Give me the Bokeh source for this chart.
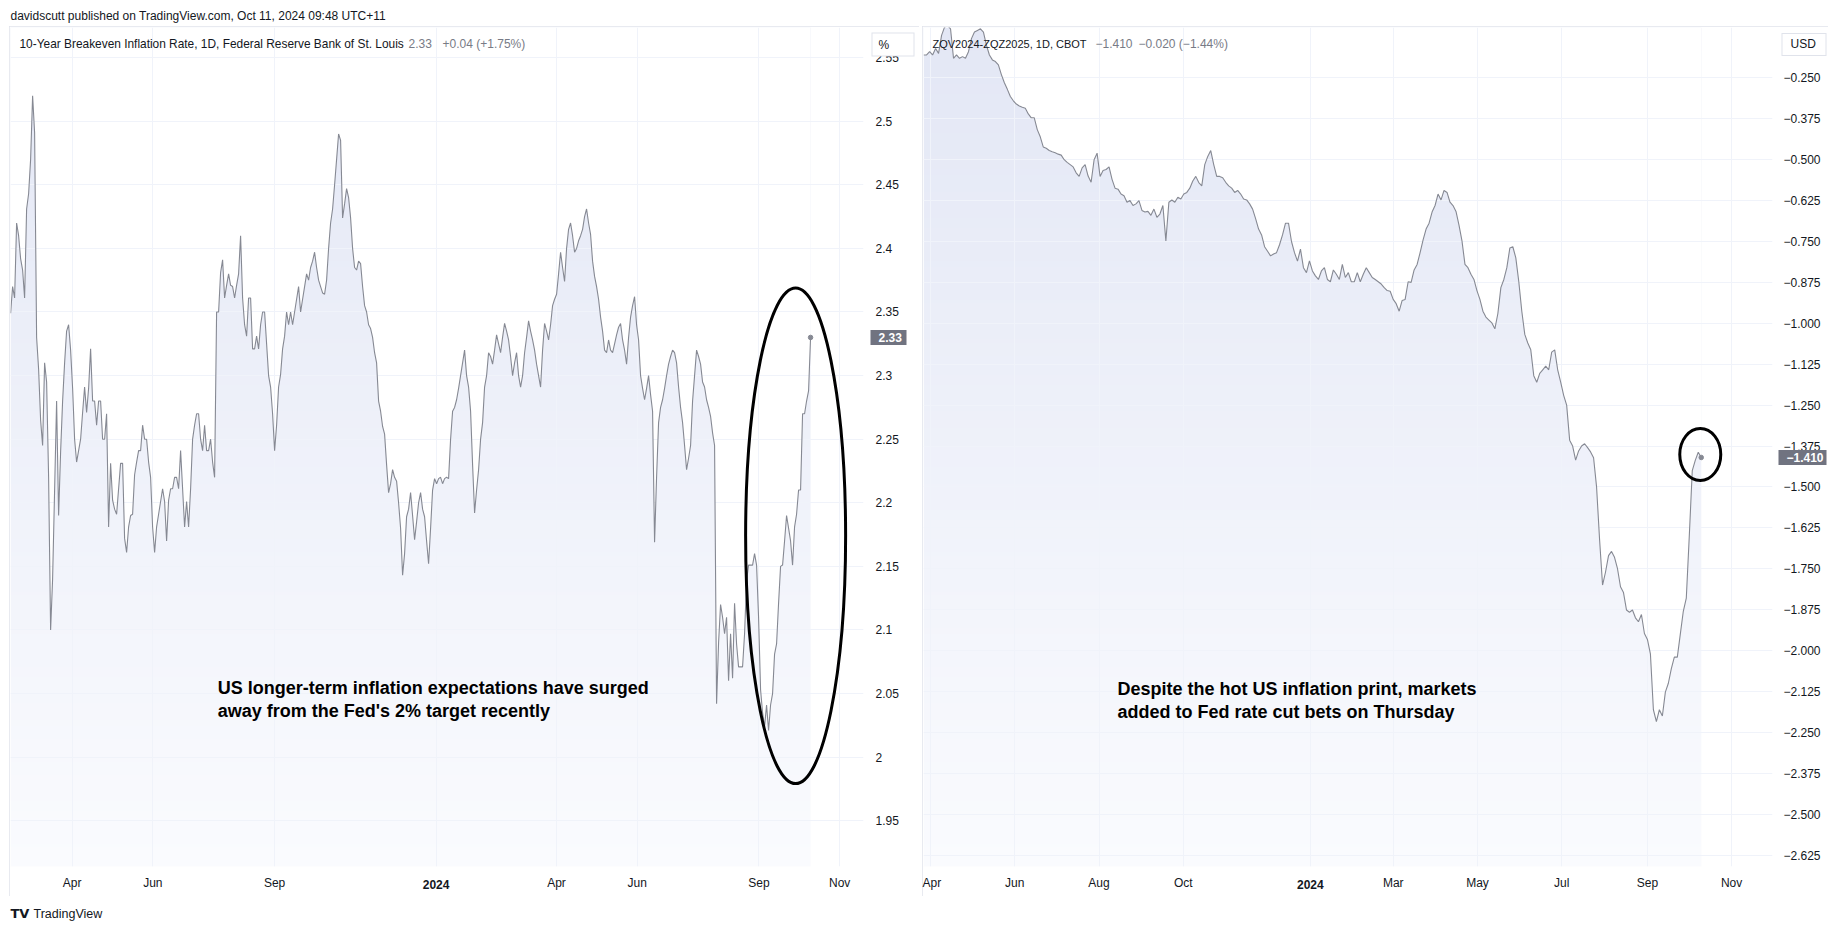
import numpy as np
import pandas as pd
from bokeh.plotting import figure
from bokeh.layouts import column, row
from bokeh.models import (Range1d, FixedTicker, Label, Spacer, ColumnDataSource,
                          LinearAxis, DatetimeAxis)
from bokeh.core.properties import value
from bokeh.embed import file_html
from bokeh.resources import INLINE

# ------------------------------------------------------------------ data
HEADER = "davidscutt published on TradingView.com, Oct 11, 2024 09:48 UTC+11"

be_title = "10-Year Breakeven Inflation Rate, 1D, Federal Reserve Bank of St. Louis"
be_last = "2.33"
be_change = "+0.04 (+1.75%)"
be_unit = "%"
be_start = "2023-02-13 12:00"
be_end = "2024-10-10"
be_values = [
    2.349, 2.370, 2.361, 2.420, 2.410, 2.392, 2.383, 2.361, 2.431, 2.443,
    2.470, 2.520, 2.491, 2.330, 2.305, 2.265, 2.245, 2.310, 2.295, 2.220,
    2.100, 2.140, 2.210, 2.280, 2.190, 2.240, 2.280, 2.310, 2.335, 2.340,
    2.320, 2.290, 2.250, 2.232, 2.241, 2.250, 2.271, 2.291, 2.271, 2.290,
    2.321, 2.280, 2.280, 2.261, 2.280, 2.280, 2.250, 2.250, 2.270, 2.181,
    2.231, 2.202, 2.195, 2.191, 2.211, 2.231, 2.231, 2.172, 2.161, 2.181,
    2.190, 2.191, 2.222, 2.232, 2.241, 2.241, 2.261, 2.250, 2.250, 2.232,
    2.220, 2.181, 2.161, 2.181, 2.191, 2.201, 2.211, 2.201, 2.170, 2.202,
    2.211, 2.211, 2.220, 2.220, 2.211, 2.241, 2.211, 2.181, 2.201, 2.181,
    2.211, 2.250, 2.261, 2.270, 2.270, 2.250, 2.241, 2.261, 2.241, 2.241,
    2.250, 2.232, 2.220, 2.350, 2.350, 2.381, 2.391, 2.361, 2.371, 2.380,
    2.371, 2.370, 2.361, 2.371, 2.380, 2.410, 2.361, 2.340, 2.331, 2.361,
    2.361, 2.321, 2.321, 2.331, 2.321, 2.340, 2.350, 2.350, 2.325, 2.300,
    2.291, 2.270, 2.241, 2.261, 2.291, 2.301, 2.321, 2.331, 2.350, 2.340,
    2.350, 2.340, 2.350, 2.360, 2.370, 2.350,
    2.360, 2.370, 2.380, 2.375, 2.385, 2.390, 2.397, 2.385, 2.375, 2.370,
    2.365, 2.364, 2.375, 2.400, 2.420, 2.431, 2.450, 2.470, 2.490, 2.485,
    2.424, 2.435, 2.447, 2.440, 2.424, 2.400, 2.385, 2.383, 2.390, 2.388,
    2.370, 2.355, 2.350, 2.340, 2.337, 2.330, 2.318, 2.310, 2.280, 2.272,
    2.260, 2.254, 2.230, 2.208, 2.215, 2.226, 2.220, 2.217, 2.200, 2.180,
    2.143, 2.160, 2.189, 2.195, 2.208, 2.190, 2.171, 2.185, 2.200, 2.208,
    2.195, 2.189, 2.170, 2.152, 2.180, 2.210, 2.219, 2.215, 2.219, 2.220,
    2.215, 2.219, 2.220, 2.219, 2.250, 2.272, 2.275, 2.281, 2.290, 2.300,
    2.310, 2.320, 2.300, 2.291, 2.272, 2.230, 2.192, 2.210, 2.226, 2.250,
    2.263, 2.291, 2.300, 2.318, 2.315, 2.309, 2.320, 2.332, 2.325, 2.318,
    2.330, 2.341, 2.335, 2.328, 2.315, 2.300, 2.310, 2.318, 2.300, 2.291,
    2.300, 2.318, 2.330, 2.343, 2.335, 2.328, 2.320, 2.309, 2.300, 2.291,
    2.320, 2.341, 2.335, 2.328, 2.340, 2.355, 2.360, 2.364, 2.380, 2.397,
    2.385, 2.374, 2.400, 2.415, 2.420, 2.410, 2.397, 2.400, 2.406, 2.410,
    2.415, 2.425, 2.431, 2.420, 2.411, 2.390, 2.378, 2.370, 2.360, 2.346,
    2.335, 2.320, 2.318, 2.328, 2.320, 2.318, 2.325, 2.332, 2.338, 2.341,
    2.328, 2.320, 2.309, 2.330, 2.346, 2.355, 2.362, 2.340, 2.328, 2.300,
    2.290, 2.281, 2.290, 2.300, 2.285, 2.272, 2.169, 2.220, 2.263, 2.275,
    2.281, 2.290, 2.300, 2.309, 2.315, 2.320, 2.318, 2.310, 2.291, 2.275,
    2.263, 2.245, 2.226, 2.235, 2.245, 2.280, 2.300, 2.320, 2.315, 2.309,
    2.295, 2.291, 2.281, 2.275, 2.268, 2.255, 2.245, 2.042, 2.090, 2.120,
    2.110, 2.097, 2.110, 2.060, 2.097, 2.062, 2.121, 2.089, 2.071, 2.071,
    2.071, 2.097, 2.139, 2.151, 2.151, 2.151, 2.160, 2.151, 2.110, 2.053,
    2.035, 2.024, 2.041, 2.021, 2.041, 2.050, 2.081, 2.089, 2.121, 2.150,
    2.151, 2.170, 2.190, 2.180, 2.170, 2.151, 2.181, 2.191, 2.210, 2.210,
    2.270, 2.270, 2.280, 2.288, 2.330,
]

zq_title = "ZQV2024-ZQZ2025, 1D, CBOT"
zq_last = "\u22121.410"
zq_change = "\u22120.020 (\u22121.44%)"
zq_unit = "USD"
zq_start = "2023-03-27"
zq_end = "2024-10-10"
zq_values = [
    -0.180, -0.180, -0.170, -0.180, -0.160, -0.175, -0.120, -0.095, -0.090, -0.100,
    -0.190, -0.180, -0.190, -0.185, -0.190, -0.170, -0.130, -0.110, -0.105, -0.100,
    -0.110, -0.150, -0.180, -0.195, -0.200, -0.210, -0.240, -0.265, -0.285, -0.307,
    -0.320, -0.330, -0.336, -0.340, -0.343, -0.360, -0.372, -0.372, -0.408, -0.430,
    -0.461, -0.465, -0.472, -0.476, -0.479, -0.483, -0.486, -0.500, -0.508, -0.515,
    -0.522, -0.540, -0.551, -0.525, -0.515, -0.550, -0.569, -0.500, -0.480, -0.551,
    -0.533, -0.530, -0.522, -0.560, -0.587, -0.590, -0.605, -0.610, -0.630, -0.625,
    -0.640, -0.635, -0.625, -0.655, -0.660, -0.658, -0.670, -0.651, -0.676, -0.666,
    -0.640, -0.748, -0.630, -0.623, -0.630, -0.615, -0.620, -0.605, -0.600, -0.587,
    -0.565, -0.551, -0.570, -0.580, -0.515, -0.490, -0.472, -0.515, -0.551, -0.551,
    -0.555, -0.569, -0.580, -0.587, -0.600, -0.594, -0.605, -0.620, -0.623, -0.635,
    -0.651, -0.680, -0.712, -0.730, -0.766, -0.780, -0.794, -0.788, -0.784, -0.760,
    -0.730, -0.694, -0.694, -0.750, -0.784, -0.810, -0.773, -0.830, -0.845, -0.809,
    -0.840, -0.855, -0.866, -0.840, -0.830, -0.866, -0.873, -0.837, -0.850, -0.866,
    -0.820, -0.860, -0.845, -0.873, -0.873, -0.845, -0.873, -0.850, -0.830, -0.845,
    -0.860, -0.866, -0.873, -0.880, -0.891, -0.900, -0.902, -0.927, -0.940, -0.963,
    -0.930, -0.927, -0.873, -0.875, -0.837, -0.820, -0.784, -0.745, -0.712, -0.694,
    -0.660, -0.640, -0.605, -0.623, -0.594, -0.600, -0.630, -0.640, -0.658, -0.700,
    -0.748, -0.820, -0.830, -0.850, -0.866, -0.900, -0.927, -0.963, -0.981, -0.990,
    -0.999, -1.017, -0.970, -0.891, -0.866, -0.830, -0.770, -0.766, -0.800, -0.873,
    -0.963, -1.034, -1.060, -1.081, -1.160, -1.180, -1.153, -1.142, -1.131, -1.142,
    -1.088, -1.081, -1.142, -1.180, -1.220, -1.250, -1.357, -1.375, -1.418, -1.390,
    -1.375, -1.368, -1.380, -1.393, -1.411, -1.500, -1.660, -1.800, -1.760, -1.710,
    -1.697, -1.715, -1.750, -1.805, -1.823, -1.876, -1.883, -1.876, -1.900, -1.912,
    -1.890, -1.948, -1.966, -2.010, -2.181, -2.217, -2.181, -2.200, -2.127, -2.100,
    -2.055, -2.020, -2.020, -1.950, -1.880, -1.840, -1.650, -1.450, -1.419, -1.394,
    -1.410,
]

be_xticks = ["2023-04-01", "2023-06-01", "2023-09-01", "2024-01-01",
             "2024-04-01", "2024-06-01", "2024-09-01", "2024-11-01"]
be_xlabels = ["Apr", "Jun", "Sep", "2024", "Apr", "Jun", "Sep", "Nov"]
zq_xticks = ["2023-04-01", "2023-06-01", "2023-08-01", "2023-10-01", "2024-01-01",
             "2024-03-01", "2024-05-01", "2024-07-01", "2024-09-01", "2024-11-01"]
zq_xlabels = ["Apr", "Jun", "Aug", "Oct", "2024", "Mar", "May", "Jul", "Sep", "Nov"]
be_yticks = [1.95, 2.0, 2.05, 2.1, 2.15, 2.2, 2.25, 2.3, 2.35, 2.4, 2.45, 2.5, 2.55]
zq_yticks = [-2.625, -2.5, -2.375, -2.25, -2.125, -2.0, -1.875, -1.75, -1.625, -1.5,
             -1.375, -1.25, -1.125, -1.0, -0.875, -0.75, -0.625, -0.5, -0.375, -0.25]

be_note = "US longer-term inflation expectations have surged\naway from the Fed's 2% target recently"
be_note_at = ("2023-07-20", 2.045)
zq_note = "Despite the hot US inflation print, markets\nadded to Fed rate cut bets on Thursday"
zq_note_at = ("2023-08-14 10:00", -2.152)
be_circle_at = ("2024-09-28 17:00", 2.174)
zq_circle_at = ("2024-10-09 07:00", -1.401)

# visible windows of the two panes
be_xview = ("2023-02-13 10:00", "2024-11-19 00:00")
be_yview = (1.914, 2.5737)
zq_xview = ("2023-03-26 22:00", "2024-11-30 14:00")
zq_yview = (-2.660, -0.096)

# ------------------------------------------------------------------ style
FONT = "Liberation Sans"
LINE = "#868993"
GRID = "#f0f3fa"
TXT = "#131722"
MUTED = "#787b86"
BORDER = "#e0e3eb"
BADGE = "#707380"
GRAD_TOP = "#e3e7f5"
GRAD_BOTTOM = "#fafbfe"
FRAME_H = 839  # plot-area height in px (figure 870 = 1 top + 839 + 30 bottom)

# per-pane geometry of the price-scale decorations (px)
be_geo = dict(width=910, title_size="11.9px", last_dx=398, change_dx=432, ystandoff=12,
              badge=dict(tin=31, tout=5, standoff=-28),
              unit=dict(tin=33, tout=10, h=24, standoff=-36), ubox_dy=17)
zq_geo = dict(width=906, title_size="11px", last_dx=172, change_dx=215, ystandoff=11,
              badge=dict(tin=45, tout=3, standoff=-40),
              unit=dict(tin=45, tout=0, h=23, standoff=-36), ubox_dy=16.5)


def ms(s):
    return pd.Timestamp(s).value / 1e6


def hex_rgb(h):
    return np.array([int(h[i:i + 2], 16) for i in (1, 3, 5)], dtype=float)


def gradient(top, bottom, n=256):
    t = np.linspace(0.0, 1.0, n)[:, None]
    rgb = hex_rgb(bottom) + (hex_rgb(top) - hex_rgb(bottom)) * t
    img = np.zeros((n, 4), dtype=np.uint32)
    v = img.view(dtype=np.uint8).reshape((n, 4, 4))
    v[:, :, :3] = np.round(rgb).astype(np.uint8)[:, None, :]
    v[:, :, 3] = 255
    return img


def style_axis(ax, tin=0, tout=0, tick_color=None, tick_width=1, standoff=0,
               color=TXT, bold=False):
    ax.axis_line_color = None
    ax.minor_tick_line_color = None
    ax.major_tick_in = tin
    ax.major_tick_out = tout
    ax.major_tick_line_color = tick_color
    ax.major_tick_line_width = tick_width
    ax.major_label_standoff = standoff
    ax.major_label_text_font = FONT
    ax.major_label_text_font_size = "12px"
    ax.major_label_text_color = color
    ax.major_label_text_font_style = "bold" if bold else "normal"


def make_panel(geo, values, start, end, xview, yview, xticks, xlabels, yticks, ylabels,
               title, last_txt, change_txt, unit_txt, note, note_at, circle_at, circle_wh):
    dates = pd.date_range(start, end, periods=len(values))
    src = ColumnDataSource(dict(x=dates, y=values))
    x0, x1 = ms(xview[0]), ms(xview[1])
    y0, y1 = yview
    p = figure(width=geo["width"], height=870, x_axis_type="datetime", y_axis_location="right",
               x_range=Range1d(x0, x1), y_range=Range1d(y0, y1),
               toolbar_location=None, output_backend="svg",
               min_border_left=1, min_border_right=56, min_border_top=1, min_border_bottom=30,
               background_fill_color="white", border_fill_color="white",
               styles={"outline": "1px solid " + BORDER, "outline-offset": "-1px"})
    p.outline_line_color = None

    # gradient area under the line
    d0, d1 = ms(start), ms(end)
    p.image_rgba(image=[gradient(GRAD_TOP, GRAD_BOTTOM)], x=d0, y=y0, dw=d1 - d0, dh=y1 - y0,
                 level="image")
    p.varea(x="x", y1="y", y2=y1 + (y1 - y0), source=src, fill_color="white", level="image")
    p.line("x", "y", source=src, line_color=LINE, line_width=1.1)
    p.scatter(x=[dates[-1]], y=[values[-1]], size=4.5, fill_color=LINE, line_color=LINE)

    # grid
    p.xgrid.ticker = FixedTicker(ticks=[ms(t) for t in xticks])
    p.ygrid.ticker = FixedTicker(ticks=yticks)
    p.grid.grid_line_color = GRID
    p.grid.grid_line_width = 1

    # time scale (months) + bold year on a second stacked axis
    p.xaxis.ticker = FixedTicker(ticks=[ms(t) for t in xticks])
    p.xaxis.major_label_overrides = {ms(t): ("" if lab.isdigit() else lab)
                                     for t, lab in zip(xticks, xlabels)}
    style_axis(p.xaxis[0], standoff=9)
    yr_ticks = [ms(t) for t, lab in zip(xticks, xlabels) if lab.isdigit()]
    yr_labels = [lab for lab in xlabels if lab.isdigit()]
    year_axis = DatetimeAxis(ticker=FixedTicker(ticks=yr_ticks),
                             major_label_overrides=dict(zip(yr_ticks, yr_labels)))
    style_axis(year_axis, standoff=-13, bold=True)
    p.add_layout(year_axis, "below")

    # price scale
    p.yaxis.ticker = FixedTicker(ticks=yticks)
    p.yaxis.major_label_overrides = dict(zip(yticks, ylabels))
    style_axis(p.yaxis[0], standoff=geo["ystandoff"])

    # last-value badge (thick tick as the box, label as the text)
    last = values[-1]
    b = geo["badge"]
    badge_axis = LinearAxis(ticker=FixedTicker(ticks=[last]),
                            major_label_overrides={last: last_txt})
    style_axis(badge_axis, tin=b["tin"], tout=b["tout"], tick_color=BADGE, tick_width=15,
               standoff=b["standoff"], color="white", bold=True)
    p.add_layout(badge_axis, "right")

    # unit button at the top of the price scale: border = major tick, fill = minor tick
    uy = y1 - geo["ubox_dy"] * (y1 - y0) / FRAME_H
    u = geo["unit"]
    unit_axis = LinearAxis(ticker=FixedTicker(ticks=[uy], minor_ticks=[uy]),
                           major_label_overrides={uy: unit_txt})
    style_axis(unit_axis, tin=u["tin"], tout=u["tout"], tick_color=BORDER, tick_width=u["h"],
               standoff=u["standoff"])
    unit_axis.minor_tick_in = u["tin"] - 1
    unit_axis.minor_tick_out = u["tout"] - 1
    unit_axis.minor_tick_line_color = "white"
    unit_axis.minor_tick_line_width = u["h"] - 2
    p.add_layout(unit_axis, "right")

    # legend line
    p.add_layout(Label(x=x0, y=y1, x_offset=9, y_offset=-16, text=title, text_font=FONT,
                       text_font_size=geo["title_size"], text_color=TXT, text_baseline="middle"))
    p.add_layout(Label(x=x0, y=y1, x_offset=geo["last_dx"], y_offset=-16, text=last_txt,
                       text_font=FONT, text_font_size="12px", text_color=MUTED,
                       text_baseline="middle"))
    p.add_layout(Label(x=x0, y=y1, x_offset=geo["change_dx"], y_offset=-16, text=change_txt,
                       text_font=FONT, text_font_size="12px", text_color=MUTED,
                       text_baseline="middle"))

    # annotation ellipse and note
    p.ellipse(x=[ms(circle_at[0])], y=[circle_at[1]], width=circle_wh[0], height=circle_wh[1],
              width_units="screen", height_units="screen", fill_color=None,
              line_color="black", line_width=3)
    p.text(x=[ms(note_at[0])], y=[note_at[1]], text=[note], text_font=value(FONT),
           text_font_size="18px", text_font_style="bold", text_color="black",
           text_align="left", text_baseline="middle", text_line_height=1.15)
    return p


be_ylabels = [f"{t:g}" for t in be_yticks]
zq_ylabels = [f"\u2212{abs(t):.3f}" for t in zq_yticks]

p1 = make_panel(be_geo, be_values, be_start, be_end, be_xview, be_yview, be_xticks, be_xlabels,
                be_yticks, be_ylabels, be_title, be_last, be_change, be_unit,
                be_note, be_note_at, be_circle_at, (100, 496))
p2 = make_panel(zq_geo, zq_values, zq_start, zq_end, zq_xview, zq_yview, zq_xticks, zq_xlabels,
                zq_yticks, zq_ylabels, zq_title, zq_last, zq_change, zq_unit,
                zq_note, zq_note_at, zq_circle_at, (41, 52))


def strip(height):
    f = figure(width=1838, height=height, x_range=Range1d(0, 1838), y_range=Range1d(0, height),
               toolbar_location=None, output_backend="svg", min_border=0,
               x_axis_location=None, y_axis_location=None,
               background_fill_color="white", border_fill_color="white")
    f.grid.visible = False
    f.outline_line_color = None
    return f


hdr = strip(26)
hdr.add_layout(Label(x=10, y=11, text=HEADER, text_font=FONT, text_font_size="12px",
                     text_color=TXT, text_baseline="middle"))

ftr = strip(35)
ftr.add_layout(Label(x=10, y=18, text="TV", text_font="DejaVu Sans", text_font_size="13px",
                     text_font_style="bold", text_color=TXT, text_baseline="middle"))
ftr.add_layout(Label(x=33, y=18, text="TradingView", text_font=FONT, text_font_size="12.5px",
                     text_color=TXT, text_baseline="middle"))

layout = column(hdr,
                row(Spacer(width=9, height=870), p1, Spacer(width=3, height=870), p2),
                ftr)

open("out.html", "w").write(file_html(layout, INLINE))
